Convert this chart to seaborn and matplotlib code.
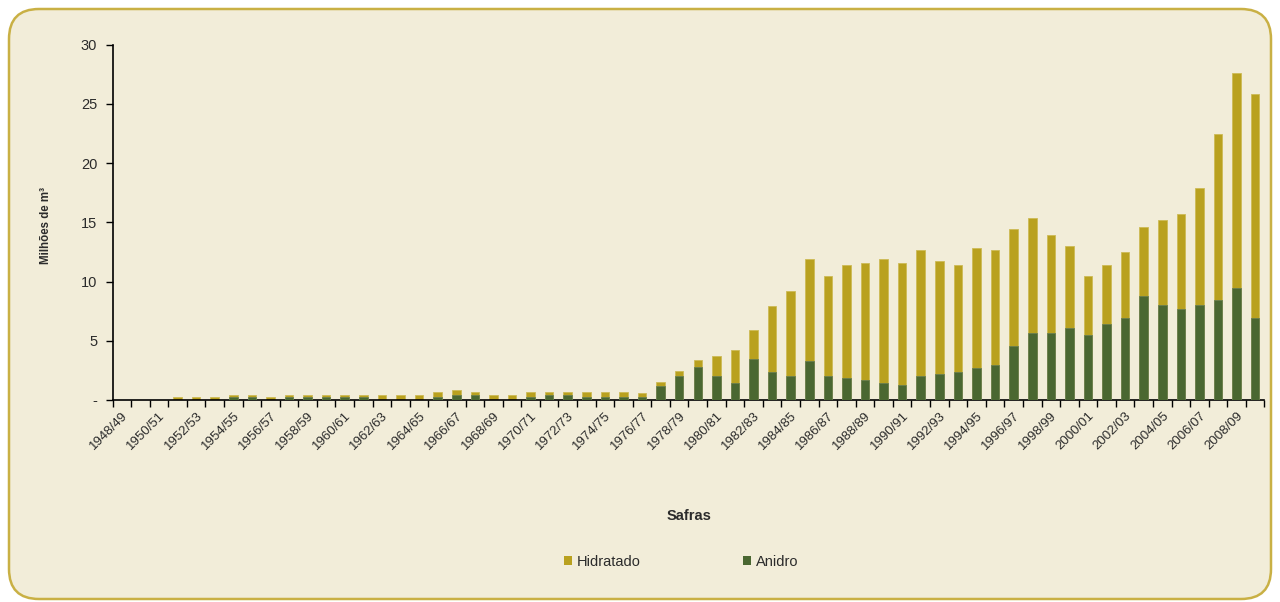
import matplotlib
matplotlib.use("Agg")
import matplotlib.pyplot as plt
from matplotlib.patches import FancyBboxPatch, Patch
import numpy as np
import seaborn as sns

# Safras (crop seasons)
safras = [
    "1948/49", "1949/50", "1950/51", "1951/52", "1952/53", "1953/54", "1954/55",
    "1955/56", "1956/57", "1957/58", "1958/59", "1959/60", "1960/61", "1961/62",
    "1962/63", "1963/64", "1964/65", "1965/66", "1966/67", "1967/68", "1968/69",
    "1969/70", "1970/71", "1971/72", "1972/73", "1973/74", "1974/75", "1975/76",
    "1976/77", "1977/78", "1978/79", "1979/80", "1980/81", "1981/82", "1982/83",
    "1983/84", "1984/85", "1985/86", "1986/87", "1987/88", "1988/89", "1989/90",
    "1990/91", "1991/92", "1992/93", "1993/94", "1994/95", "1995/96", "1996/97",
    "1997/98", "1998/99", "1999/00", "2000/01", "2001/02", "2002/03", "2003/04",
    "2004/05", "2005/06", "2006/07", "2007/08", "2008/09", "2009/10",
]

# Ethanol production, millions of m3
anidro = [
    0.00, 0.00, 0.00, 0.00, 0.00, 0.00, 0.25, 0.25, 0.00, 0.25,
    0.25, 0.25, 0.25, 0.25, 0.00, 0.00, 0.00, 0.25, 0.45, 0.45,
    0.00, 0.00, 0.25, 0.45, 0.45, 0.25, 0.25, 0.25, 0.24, 1.17,
    2.05, 2.77, 2.00, 1.46, 3.49, 2.39, 2.00, 3.29, 2.00, 1.86,
    1.66, 1.46, 1.29, 2.00, 2.20, 2.39, 2.73, 2.96, 4.59, 5.68,
    5.68, 6.05, 5.49, 6.42, 6.95, 8.75, 8.05, 7.69, 8.05, 8.41,
    9.49, 6.95,
]
hidratado = [
    0.00, 0.00, 0.00, 0.28, 0.28, 0.28, 0.20, 0.20, 0.28, 0.20,
    0.20, 0.20, 0.20, 0.20, 0.45, 0.45, 0.45, 0.40, 0.39, 0.20,
    0.45, 0.45, 0.40, 0.20, 0.20, 0.40, 0.40, 0.40, 0.38, 0.38,
    0.39, 0.58, 1.72, 2.76, 2.39, 5.51, 7.17, 8.62, 8.44, 9.51,
    9.88, 10.45, 10.25, 10.64, 9.50, 8.98, 10.11, 9.68, 9.88, 9.69,
    8.22, 6.95, 4.95, 4.95, 5.52, 5.89, 7.15, 8.04, 9.88, 14.08,
    18.15, 18.86,
]

y_ticks = [0, 5, 10, 15, 20, 25, 30]
y_ticklabels = ["-", "5", "10", "15", "20", "25", "30"]

COL_HID = "#B9A11F"
COL_ANI = "#4A6731"
BG = "#F2EDD9"
BORDER = "#C9B044"
TXT = "#2B2B2B"

plt.rcParams["font.family"] = ["Liberation Sans", "DejaVu Sans"]

W, H = 1280, 602
fig = plt.figure(figsize=(W / 100, H / 100), dpi=100)
fig.patch.set_facecolor("white")

# rounded card behind the chart
card = FancyBboxPatch((9, 3), W - 18, H - 12,
                      boxstyle="round,pad=0,rounding_size=30",
                      transform=None, facecolor=BG, edgecolor=BORDER,
                      linewidth=1.8, zorder=-10)
fig.patches.append(card)

ax = fig.add_axes([112.5 / W, 1 - 400 / H, 1152 / W, 355.3 / H])
ax.set_facecolor("none")

total = np.array(anidro) + np.array(hidratado)
sns.barplot(x=safras, y=total, color=COL_HID, saturation=1, width=0.46,
            ax=ax, zorder=2, edgecolor="#CDBB55", linewidth=0.6)
sns.barplot(x=safras, y=anidro, color=COL_ANI, saturation=1, width=0.46,
            ax=ax, zorder=3, edgecolor="#6A7F50", linewidth=0.6)

ax.set_xlim(-0.5, len(safras) - 0.5)
ax.set_ylim(0, 30)

# y axis
ax.set_yticks(y_ticks)
ax.set_yticklabels(y_ticklabels, fontsize=10.5, color=TXT)
ax.tick_params(axis="y", direction="out", length=5, width=1, color="black", pad=6)

# x axis: labels every other season, tick marks at category edges
ax.set_xticks(range(0, len(safras), 2))
ax.set_xticklabels(safras[::2], rotation=45, ha="right",
                   rotation_mode="anchor", fontsize=9.5, color=TXT)
ax.tick_params(axis="x", which="major", length=0, pad=7)
ax.set_xticks(np.arange(-0.5, len(safras), 1), minor=True)
ax.tick_params(axis="x", which="minor", direction="out", length=5,
               width=1, color="black")

for side in ("top", "right"):
    ax.spines[side].set_visible(False)
for side in ("left", "bottom"):
    ax.spines[side].set_color("black")
    ax.spines[side].set_linewidth(1.2)
ax.set_xlabel("")
ax.set_ylabel("")

fig.text(46 / W, 1 - 226 / H, "Milhões de m³", rotation=90, ha="center",
         va="center", fontsize=8.3, fontweight="bold", color=TXT)
fig.text(689 / W, 1 - 516 / H, "Safras", ha="center", va="center",
         fontsize=10.5, fontweight="bold", color=TXT)

handles = [Patch(facecolor=COL_HID, edgecolor="none", label="Hidratado"),
           Patch(facecolor=COL_ANI, edgecolor="none", label="Anidro")]
leg = fig.legend(handles=handles, loc="center",
                 bbox_to_anchor=(681 / W, 1 - 562 / H), ncol=2, frameon=False,
                 fontsize=10.5, handlelength=0.6, handleheight=0.6,
                 handletextpad=0.3, columnspacing=7.0)
for t in leg.get_texts():
    t.set_color(TXT)

fig.savefig("out.png", dpi=100, facecolor=fig.get_facecolor())
